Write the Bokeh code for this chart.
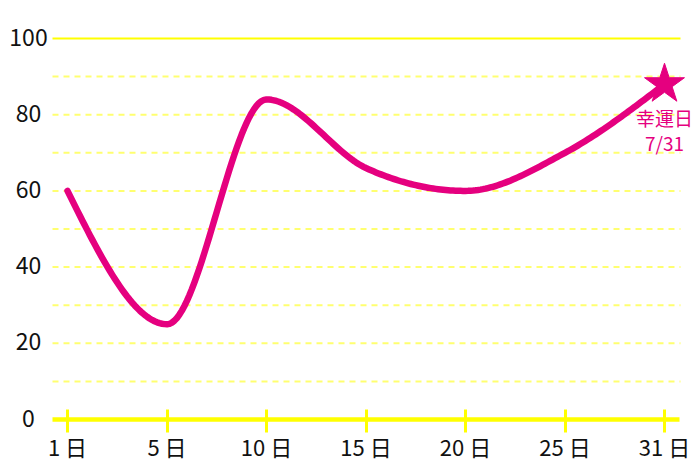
import numpy as np
from bokeh.plotting import figure
from bokeh.models import FixedTicker, Range1d
from bokeh.core.properties import value
from bokeh.embed import file_html
from bokeh.resources import INLINE

# ---- data ----
days = ["1 日", "5 日", "10 日", "15 日", "20 日", "25 日", "31 日"]
scores = [60, 25, 84, 66, 60, 70, 88]
y_ticks = [0, 20, 40, 60, 80, 100]
grid_dashed = [10, 20, 30, 40, 50, 60, 70, 80, 90]
grid_solid = [100]
lucky_label = ["幸運日", "7/31"]

PINK = "#e5007f"
YELLOW = "#ffff00"
GRID = "#ffff70"
FONT = "Noto Sans CJK JP"

# ---- layout geometry (pixels) ----
W, H = 700, 467
X0_PX, DX_PX = 67, 99.5        # pixel of first category, pixels per category step
Y0_PX, DY_PX = 419, 3.81       # pixel of value 0, pixels per unit
GRID_L_PX, GRID_R_PX = 52, 680
YLAB_PX = 28


def px2x(px):
    return (px - X0_PX) / DX_PX


xi = np.arange(len(scores), dtype=float)
yv = np.array(scores, dtype=float)


def monotone_curve(x, y, n=40):
    """Monotone cubic (curveMonotoneX style) sampling for smooth rendering."""
    m = len(x)
    h = np.diff(x)
    s = np.diff(y) / h
    t = np.zeros(m)
    for i in range(1, m - 1):
        s0, s1 = s[i - 1], s[i]
        p_ = (s0 * h[i] + s1 * h[i - 1]) / (h[i - 1] + h[i])
        t[i] = (np.sign(s0) + np.sign(s1)) * min(abs(s0), abs(s1), 0.5 * abs(p_))
    t[0] = (3 * s[0] - t[1]) / 2
    t[-1] = (3 * s[-1] - t[-2]) / 2
    xs, ys = [], []
    for i in range(m - 1):
        u = np.linspace(0, 1, n, endpoint=(i == m - 2))
        h00 = 2 * u**3 - 3 * u**2 + 1
        h10 = u**3 - 2 * u**2 + u
        h01 = -2 * u**3 + 3 * u**2
        h11 = u**3 - u**2
        xs.extend(x[i] + u * h[i])
        ys.extend(h00 * y[i] + h10 * h[i] * t[i] + h01 * y[i + 1] + h11 * h[i] * t[i + 1])
    return np.array(xs), np.array(ys)


cx, cy = monotone_curve(xi, yv)

x_range = Range1d(px2x(0), px2x(W))
y_range = Range1d(-(H - Y0_PX) / DY_PX, Y0_PX / DY_PX)

p = figure(width=W, height=H, output_backend="svg", toolbar_location=None,
           x_range=x_range, y_range=y_range,
           min_border_left=0, min_border_right=0, min_border_top=0, min_border_bottom=0)
p.outline_line_color = None
p.background_fill_color = "white"
p.xgrid.visible = False
p.ygrid.visible = False
p.yaxis.visible = False

gl, gr = px2x(GRID_L_PX), px2x(GRID_R_PX)

# dashed grid lines
p.segment(x0=[gl] * len(grid_dashed), y0=grid_dashed, x1=[gr] * len(grid_dashed), y1=grid_dashed,
          line_color=GRID, line_width=2, line_dash="6 5")
# solid top line
p.segment(x0=[gl], y0=grid_solid, x1=[gr], y1=grid_solid, line_color=YELLOW, line_width=2)
# base axis line
p.segment(x0=[gl], y0=[0], x1=[px2x(679)], y1=[0], line_color=YELLOW, line_width=4.5)

# y labels (centered)
p.text(x=[px2x(YLAB_PX)] * len(y_ticks), y=y_ticks, text=[str(v) for v in y_ticks],
       y_offset=-1.5, text_align="center", text_baseline="middle",
       text_font=value(FONT), text_font_size="23px", text_color="#111111")

# x axis at y = 0 (ticks + labels)
xa = p.xaxis[0]
xa.fixed_location = 0
xa.ticker = FixedTicker(ticks=list(range(len(days))))
xa.major_label_overrides = {i: d for i, d in enumerate(days)}
xa.axis_line_color = None
xa.major_tick_line_color = YELLOW
xa.major_tick_line_width = 3
xa.major_tick_in = 10
xa.major_tick_out = 13
xa.minor_tick_line_color = None
xa.major_label_standoff = -3
xa.major_label_text_font = FONT
xa.major_label_text_font_size = "22px"
xa.major_label_text_color = "#111111"

# curve
p.line(cx, cy, line_color=PINK, line_width=6.5, line_cap="round", line_join="round")

# star at last point
p.scatter([xi[-1]], [yv[-1]], marker="star", size=42, fill_color=PINK, line_color=PINK)
p.text([xi[-1]], [yv[-1]], text=[lucky_label[0]], y_offset=33, text_align="center",
       text_baseline="middle", text_font=value(FONT), text_font_size="19px", text_color=PINK)
p.text([xi[-1]], [yv[-1]], text=[lucky_label[1]], y_offset=58, text_align="center",
       text_baseline="middle", text_font=value(FONT), text_font_size="19px", text_color=PINK)

open("out.html", "w").write(file_html(p, INLINE))
